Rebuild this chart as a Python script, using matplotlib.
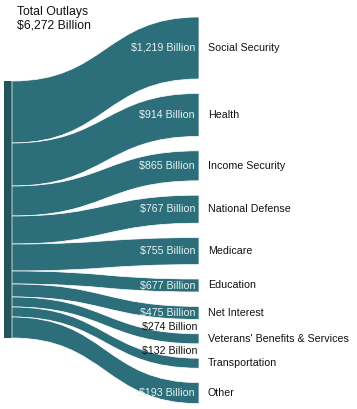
import numpy as np
import matplotlib
matplotlib.use('Agg')
import matplotlib.pyplot as plt
from matplotlib.path import Path
from matplotlib.patches import PathPatch, Rectangle

plt.rcParams['font.family'] = ['Liberation Sans', 'DejaVu Sans']

# data
categories = ['Social Security', 'Health', 'Income Security', 'National Defense', 'Medicare',
              'Education', 'Net Interest', "Veterans' Benefits & Services", 'Transportation', 'Other']
outlays = [1219, 914, 865, 767, 755, 677, 475, 274, 132, 193]
# band thickness as drawn in the chart (not proportional to the outlays)
band_weight = [62, 43, 30, 28, 27, 13, 13, 10, 10, 21]
total = 6272

W, H = 357, 409
fig = plt.figure(figsize=(W / 100, H / 100), dpi=100)
ax = fig.add_axes([0, 0, 1, 1])
ax.set_xlim(0, W)
ax.set_ylim(H, 0)
ax.axis('off')

band_col = '#2c6f7a'
src_col = '#24555a'
x_src0, x_src1 = 4, 11.5
x0, x1 = 12, 199
left_top = 81
right_top = 17
gap = 14.4
fs = 7.7

# left node
ax.add_patch(Rectangle((x_src0, left_top), x_src1 - x_src0, sum(band_weight),
                       facecolor=src_col, edgecolor='none'))


def band(ax, yl0, yl1, yr0, yr1):
    xm = (x0 + x1) / 2
    verts = [(x0, yl0), (xm, yl0), (xm, yr0), (x1, yr0),
             (x1, yr1),
             (xm, yr1), (xm, yl1), (x0, yl1),
             (x0, yl0)]
    codes = [Path.MOVETO, Path.CURVE4, Path.CURVE4, Path.CURVE4,
             Path.LINETO,
             Path.CURVE4, Path.CURVE4, Path.CURVE4,
             Path.CLOSEPOLY]
    ax.add_patch(PathPatch(Path(verts, codes), facecolor=band_col,
                           edgecolor='white', lw=0.5))


yl = left_top
yr = right_top
for i, (cat, val, w) in enumerate(zip(categories, outlays, band_weight)):
    band(ax, yl, yl + w, yr, yr + w)
    yc = yr + w / 2
    lbl = '${:,} Billion'.format(val)
    if w >= 12:
        ax.text(x1 - 4, yc, lbl, ha='right', va='center', fontsize=fs, color='#e8f2f3')
    else:
        ax.text(x1 - 2, yr - 7, lbl, ha='right', va='center', fontsize=fs, color='#111111')
    ax.text(x1 + 9, yc, cat, ha='left', va='center', fontsize=fs, color='#111111')
    yl += w
    yr += w + gap

ax.text(17, 12, 'Total Outlays', ha='left', va='center', fontsize=8.8, color='#111111')
ax.text(17, 26, '${:,} Billion'.format(total), ha='left', va='center', fontsize=8.8, color='#111111')

fig.savefig('out.png', dpi=100)
